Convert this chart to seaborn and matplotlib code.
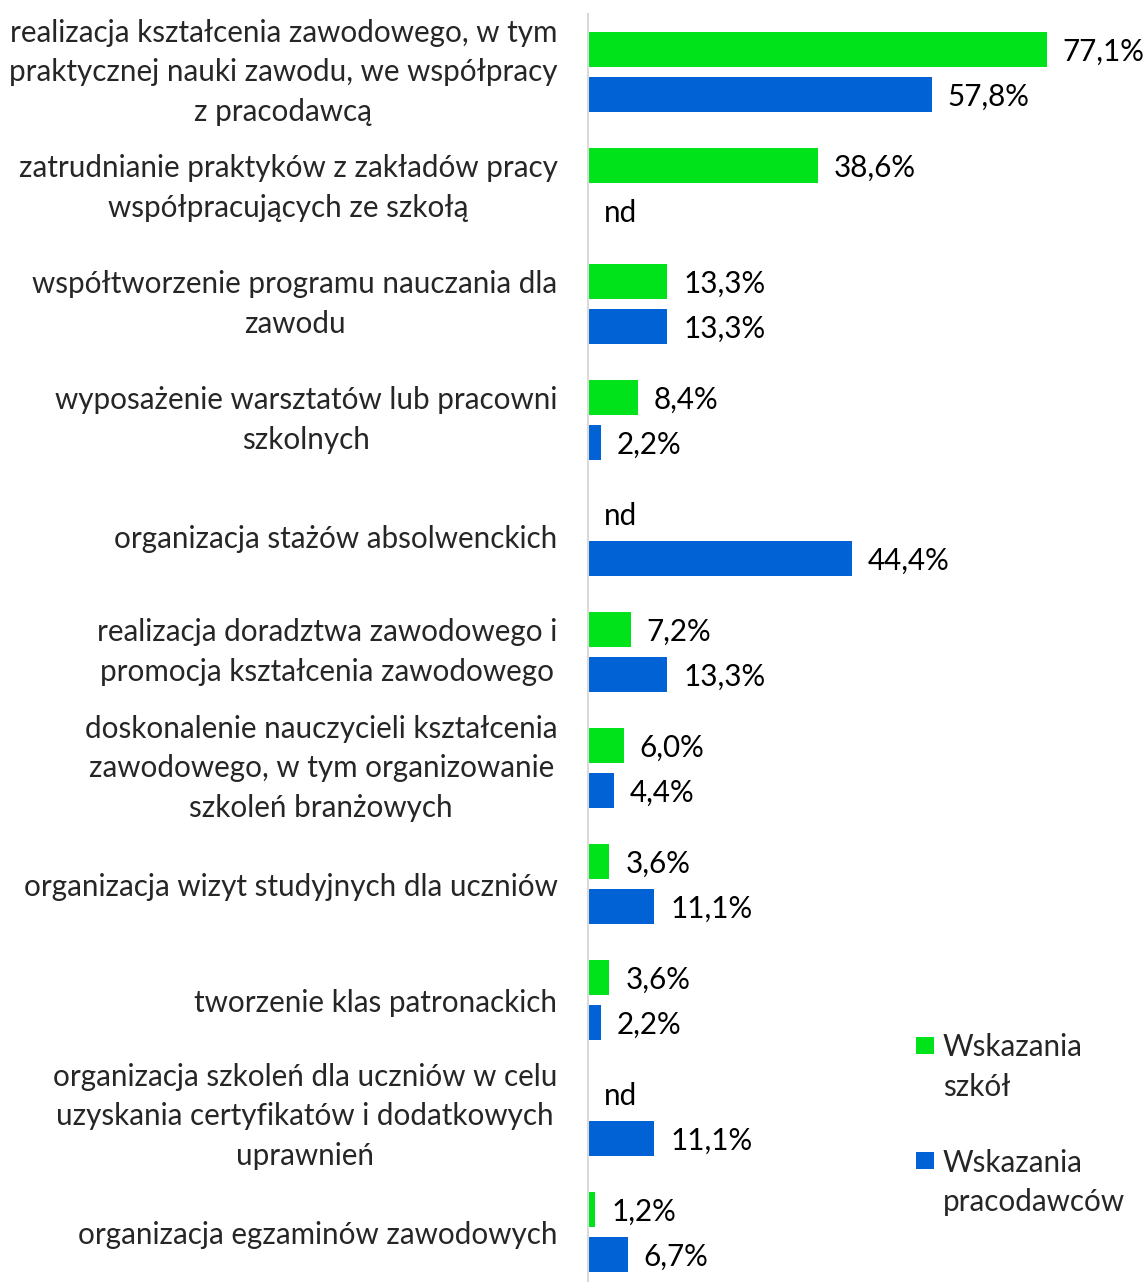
import numpy as np
import pandas as pd
import seaborn as sns
import matplotlib.pyplot as plt
from matplotlib.patches import Rectangle

categories = [
    "realizacja kształcenia zawodowego, w tym\npraktycznej nauki zawodu, we współpracy\nz pracodawcą",
    "zatrudnianie praktyków z zakładów pracy\nwspółpracujących ze szkołą",
    "współtworzenie programu nauczania dla\nzawodu",
    "wyposażenie warsztatów lub pracowni\nszkolnych",
    "organizacja stażów absolwenckich",
    "realizacja doradztwa zawodowego i\npromocja kształcenia zawodowego",
    "doskonalenie nauczycieli kształcenia\nzawodowego, w tym organizowanie\nszkoleń branżowych",
    "organizacja wizyt studyjnych dla uczniów",
    "tworzenie klas patronackich",
    "organizacja szkoleń dla uczniów w celu\nuzyskania certyfikatów i dodatkowych\nuprawnień",
    "organizacja egzaminów zawodowych",
]
series = ["Wskazania\nszkół", "Wskazania\npracodawców"]
schools = [77.1, 38.6, 13.3, 8.4, np.nan, 7.2, 6.0, 3.6, 3.6, np.nan, 1.2]
employers = [57.8, np.nan, 13.3, 2.2, 44.4, 13.3, 4.4, 11.1, 2.2, 11.1, 6.7]
colors = ["#00E219", "#0062D4"]

sns.set_theme(style="white")
plt.rcParams['font.family'] = ['Lato', 'DejaVu Sans']
FS = 21.3

rows = []
for s, vals in zip(series, [schools, employers]):
    for c, v in zip(categories, vals):
        rows.append({"category": c, "series": s,
                     "value": 0.0 if np.isnan(v) else v,
                     "label": "nd" if np.isnan(v) else f"{v:.1f}%".replace(".", ",")})
df = pd.DataFrame(rows)

fig = plt.figure(figsize=(11.45, 12.82), dpi=100)
W, H = 1145, 1282
ax = fig.add_axes([588 / W, 0, 1 - 588 / W, (H - 14) / H])

sns.barplot(data=df, x="value", y="category", hue="series", order=categories,
            hue_order=series, palette=colors, orient="h", width=0.776, gap=0.22,
            saturation=1, linewidth=0, legend=False, ax=ax)

for cont, s in zip(ax.containers, series):
    labs = df[df["series"] == s].set_index("category").loc[categories, "label"].tolist()
    texts = ax.bar_label(cont, labels=labs, padding=11.5, fontsize=FS, color="#000000")
    for t in texts:
        t.set_va("center_baseline")

ax.set_xlim(0, (W - 588) / 5.95)
ax.set_ylim(len(categories) - 1 + 0.43, -0.5)
ax.set_xlabel("")
ax.set_ylabel("")
ax.set_xticks([])
ax.tick_params(axis="y", length=0, pad=22, labelsize=FS)
for lab in ax.get_yticklabels():
    lab.set_multialignment("center")
    lab.set_linespacing(1.5)
    if "\n" in lab.get_text():
        lab.set_va("center")
for sp in ["top", "right", "bottom"]:
    ax.spines[sp].set_visible(False)
ax.spines["left"].set_color("#D9D9D9")
ax.spines["left"].set_linewidth(1.5)

# legend
for i, (s, col) in enumerate(zip(series, colors)):
    cy = 1045 + i * 115
    fig.add_artist(Rectangle((916 / W, 1 - (cy + 8.5) / H), 18 / W, 17 / H,
                             transform=fig.transFigure, color=col, lw=0))
    for j, line in enumerate(s.split("\n")):
        fig.text(943 / W, 1 - (cy + j * 39) / H, line, fontsize=FS,
                 va="center_baseline", ha="left")

fig.savefig("out.png", dpi=100)
